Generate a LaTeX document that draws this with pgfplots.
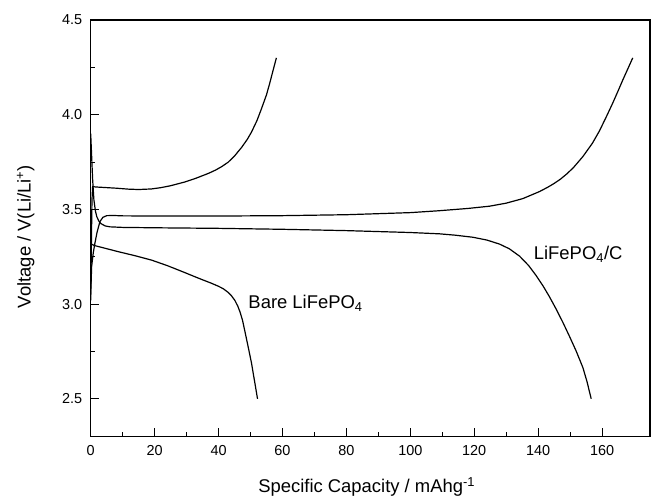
\documentclass[border=0pt]{standalone}
\usepackage{pgfplots}
\pgfplotsset{compat=1.18}
\usepackage{fontspec}
\setmainfont{Liberation Sans}
\begin{document}
\begin{tikzpicture}
\begin{axis}[
  name=ax,
  scale only axis,
  width=559.3bp, height=416.7bp,
  xmin=0, xmax=175, ymin=2.3, ymax=4.5,
  xtick={0,20,...,160},
  ytick={2.5,3.0,3.5,4.0,4.5},
  minor x tick num=1, minor y tick num=1,
  tick pos=left, tick align=inside,
  major tick length=8.5bp, minor tick length=4.3bp,
  every tick/.style={black, line width=1bp},
  axis line style={line width=1.1bp},
  /pgf/number format/assume math mode=true,
  y tick label style={/pgf/number format/fixed, /pgf/number format/fixed zerofill, /pgf/number format/precision=1, xshift=-5bp},
  ticklabel style={font=\fontsize{14.5}{17}\selectfont},
  x tick label style={yshift=-5bp},
  xlabel={Specific Capacity / mAhg\textsuperscript{-1}},
  ylabel={Voltage / V(Li/Li\textsuperscript{+})},
  label style={font=\fontsize{18.5}{22}\selectfont},
  xlabel style={at={(axis description cs:0.4935,-0.1351)}, anchor=base},
  ylabel style={at={(axis description cs:-0.1073,0.4804)}, anchor=base},
]
% Bare LiFePO4 charge
\addplot[black, line width=1.2bp, no markers] coordinates {
(0,3.02) (0.2,3.30) (0.4,3.55) (0.6,3.62) (2,3.618) (5,3.615) (8,3.612)
(11.8,3.607) (15,3.605) (19,3.608) (22,3.615) (25,3.625) (29.5,3.645)
(33,3.665) (36.8,3.69) (39,3.707) (40.9,3.725) (43,3.749) (45,3.782)
(47.2,3.827) (49,3.87) (50.3,3.908) (52,3.968) (53.4,4.03) (55,4.105)
(56,4.165) (57,4.23) (58.1,4.30)
};
% Bare LiFePO4 discharge
\addplot[black, line width=1.2bp, no markers] coordinates {
(0,3.32) (1,3.31) (4,3.297) (8.6,3.277) (14,3.255) (19.1,3.232) (24,3.203)
(29.5,3.166) (34,3.135) (37.8,3.11) (40,3.094) (41.5,3.081) (43,3.062)
(44,3.045) (45.1,3.02) (46,2.99) (46.7,2.96) (47.5,2.915) (48.2,2.86)
(49.2,2.78) (50.3,2.69) (51.2,2.60) (52.2,2.50)
};
% LiFePO4/C charge
\addplot[black, line width=1.2bp, no markers] coordinates {
(0,3.05) (0.3,3.20) (0.8,3.27) (1.3,3.32) (2,3.38) (2.9,3.436) (3.8,3.458)
(5,3.467) (7,3.468) (10,3.466) (20,3.465) (40,3.465) (60,3.467) (80,3.472)
(100,3.483) (109,3.493) (118,3.505) (124.8,3.517) (130,3.533) (135.2,3.557)
(140.4,3.594) (143,3.617) (145,3.637) (147,3.66) (149,3.688) (151,3.72)
(154,3.779) (157,3.85) (159.2,3.915) (161.5,3.995) (163.3,4.06) (165,4.125)
(166.4,4.18) (168,4.24) (169.6,4.30)
};
% LiFePO4/C discharge
\addplot[black, line width=1.2bp, no markers] coordinates {
(0,3.90) (0.3,3.78) (0.6,3.66) (1.0,3.55) (1.5,3.49) (1.9,3.462) (2.5,3.44)
(3.2,3.425) (4.5,3.413) (6,3.408) (10,3.405) (20,3.403) (40,3.400) (60,3.395)
(80,3.388) (100,3.378) (109.2,3.371) (114,3.364) (119.6,3.353) (124,3.338)
(127.9,3.317) (131,3.292) (134.2,3.253) (137,3.204) (139.4,3.15) (141.5,3.097)
(143.5,3.04) (145.5,2.978) (147.7,2.905) (149.8,2.83) (151.9,2.752) (154,2.665)
(155.3,2.59) (156.6,2.50)
};
\node[anchor=base west, inner sep=0pt, font=\fontsize{18.5}{22}\selectfont] at (axis cs:49.3,2.979) {Bare LiFePO\textsubscript{4}};
\node[anchor=base west, inner sep=0pt, font=\fontsize{18.5}{22}\selectfont] at (axis cs:138.6,3.233) {LiFePO\textsubscript{4}/C};
\end{axis}
\pgfresetboundingbox
\path[use as bounding box] ([shift={(-90.7bp,-61.3bp)}]ax.south west) rectangle ([shift={(1bp,20bp)}]ax.north east);
\end{tikzpicture}
\end{document}
